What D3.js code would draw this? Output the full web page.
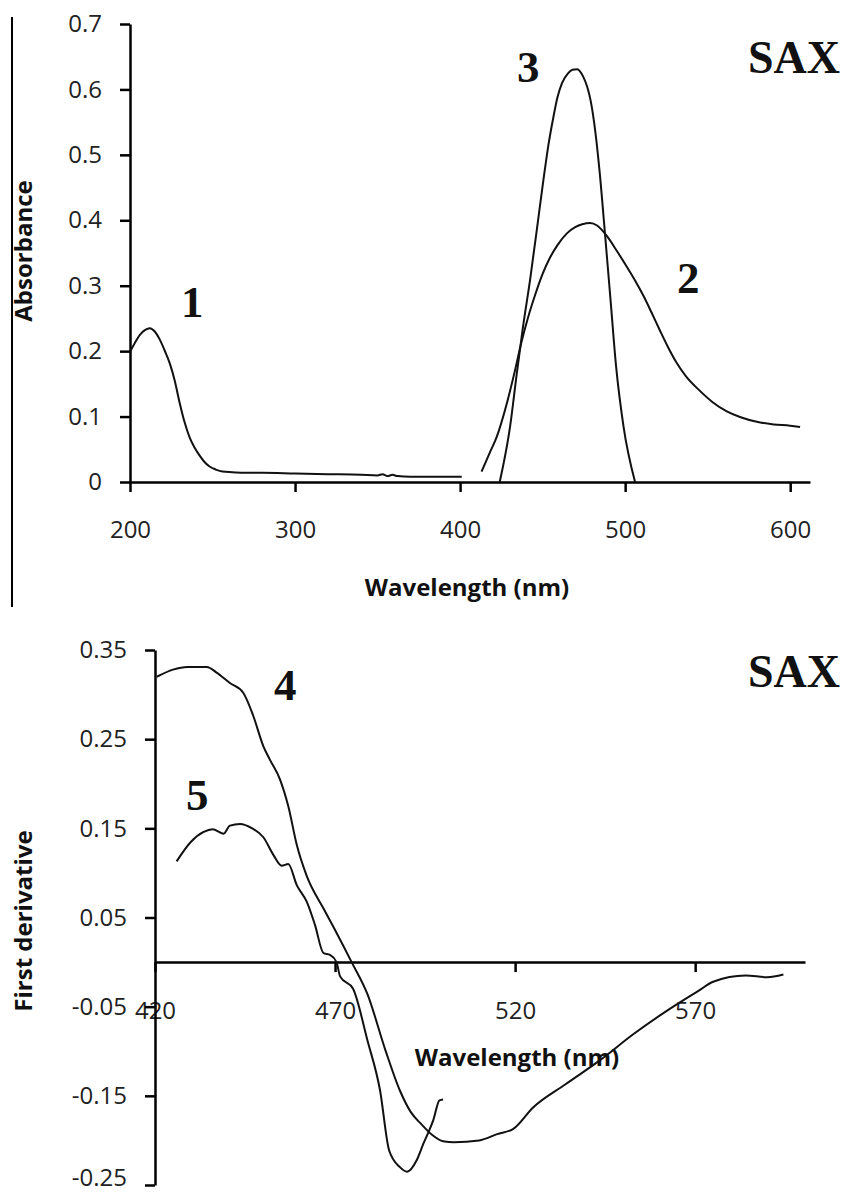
<!DOCTYPE html>
<html>
<head>
<meta charset="utf-8">
<title>SAX spectra</title>
<script src="https://cdn.jsdelivr.net/npm/d3@7/dist/d3.min.js"></script>
<style>
  body { margin: 0; background: #fff; }
  svg text { fill: #111; }
  .tick text { font-family: "Open Sans", sans-serif; font-size: 24px; fill: #222; }
  .ttl { font-family: "Open Sans", sans-serif; font-size: 24px; font-weight: bold; }
  .lbl { font-family: "Liberation Serif", serif; font-size: 45px; font-weight: bold; }
  .sax { font-family: "Liberation Serif", serif; font-size: 46px; font-weight: bold; }
</style>
</head>
<body>
<div id="chart"></div>
<script>
// ---- top panel: absorbance spectra ----
var wl1 = [200,203,206,209,212,215,218,221,224,227,230,233,236,239,242,245,248,252,256,262,270,280,300,320,340,350,353,356,359,362,370,385,401];
var abs1 = [0.199,0.213,0.225,0.232,0.235,0.230,0.218,0.201,0.182,0.156,0.122,0.092,0.069,0.053,0.041,0.031,0.024,0.019,0.016,0.015,0.014,0.014,0.013,0.012,0.011,0.010,0.012,0.009,0.011,0.009,0.008,0.008,0.008];

var wl2 = [413,418,422.2,428.3,433.3,437,441,446,450,454.5,459,464.7,470,474,478.8,483,488.9,495,501,506,511,516,521,526,531,537,545,553,561.6,570,579.8,590,600,606];
var abs2 = [0.016,0.045,0.069,0.120,0.171,0.212,0.250,0.290,0.318,0.343,0.362,0.380,0.390,0.394,0.396,0.392,0.376,0.353,0.329,0.308,0.285,0.259,0.232,0.206,0.183,0.161,0.140,0.122,0.108,0.099,0.092,0.088,0.086,0.084];

var wl3 = [424,430.3,434.3,438,442.4,447.5,450.5,453.5,456.4,459,461.8,465.5,468,471,474.5,477,479,482,484.5,488,491,494.5,499,506];
var abs3 = [0,0.085,0.165,0.235,0.309,0.405,0.462,0.515,0.556,0.588,0.610,0.625,0.630,0.631,0.620,0.604,0.584,0.534,0.475,0.373,0.283,0.177,0.085,0];

var xTicksTop = [200,300,400,500,600];
var yTicksTop = [0,0.1,0.2,0.3,0.4,0.5,0.6,0.7];

// ---- bottom panel: first derivative ----
var wl4 = [420.5,425,429,434.4,437,440.8,444.5,447.3,450.1,451.9,454.7,457,459.4,462.1,466.8,470,474.6,479,484,488,491,494,497,500,503,510,515,519.5,525,534,543.6,552.8,562,571,575,584,590,594.5];
var der4 = [0.320,0.328,0.331,0.331,0.325,0.313,0.302,0.276,0.242,0.227,0.205,0.175,0.131,0.097,0.060,0.036,0,-0.036,-0.099,-0.144,-0.168,-0.182,-0.194,-0.201,-0.202,-0.200,-0.193,-0.187,-0.163,-0.137,-0.110,-0.081,-0.055,-0.032,-0.022,-0.015,-0.017,-0.014];

var wl5 = [426,430,433.5,436,439,440.8,443.6,447,450.1,452.9,455.2,457,459.4,462.1,464.4,466.8,468.6,470.4,471.4,475,479,482.5,485,488,490,492.7,494.5,497.3,499,500];
var der5 = [0.113,0.135,0.146,0.149,0.144,0.153,0.155,0.150,0.140,0.120,0.108,0.110,0.086,0.068,0.042,0.010,0.008,0,-0.016,-0.030,-0.088,-0.144,-0.211,-0.230,-0.235,-0.222,-0.204,-0.177,-0.155,-0.154];

var xTicksBot = [420,470,520,570];
var yTicksBot = [-0.25,-0.15,-0.05,0.05,0.15,0.25,0.35];

var W = 843, H = 1198;
var svg = d3.select("#chart").append("svg").attr("width", W).attr("height", H);

// thin frame line on the left edge of the upper panel
svg.append("line").attr("x1", 12).attr("x2", 12).attr("y1", 17).attr("y2", 607)
    .attr("stroke", "#000").attr("stroke-width", 2);

function drawLine(g, x, y, wl, vals) {
    var pts = wl.map(function (w, i) { return [w, vals[i]]; });
    g.append("path")
        .datum(pts)
        .attr("fill", "none")
        .attr("stroke", "#111")
        .attr("stroke-width", 2)
        .attr("d", d3.line()
            .x(function (d) { return x(d[0]); })
            .y(function (d) { return y(d[1]); })
            .curve(d3.curveMonotoneX));
}

// top panel
var x1 = d3.scaleLinear().domain([200, 612]).range([130, 810]);
var y1 = d3.scaleLinear().domain([0, 0.7]).range([482, 24]);

var gTop = svg.append("g");
gTop.append("g").attr("transform", "translate(0,482)")
    .call(d3.axisBottom(x1).tickValues(xTicksTop).tickSize(10).tickSizeOuter(0).tickPadding(29)
        .tickFormat(function (d) { return d; }));
gTop.append("g").attr("transform", "translate(130,0)")
    .call(d3.axisLeft(y1).tickValues(yTicksTop).tickSize(10).tickSizeOuter(0).tickPadding(18)
        .tickFormat(function (d) { return d === 0 ? "0" : d.toFixed(1); }));

drawLine(gTop, x1, y1, wl1, abs1);
drawLine(gTop, x1, y1, wl2, abs2);
drawLine(gTop, x1, y1, wl3, abs3);

gTop.append("text").attr("class", "ttl").attr("x", 467).attr("y", 596)
    .attr("text-anchor", "middle").text("Wavelength (nm)");
gTop.append("text").attr("class", "ttl").attr("transform", "translate(32,251) rotate(-90)")
    .attr("text-anchor", "middle").text("Absorbance");
gTop.append("text").attr("class", "sax").attr("x", 748).attr("y", 73).text("SAX");
gTop.append("text").attr("class", "lbl").attr("x", 181).attr("y", 317).text("1");
gTop.append("text").attr("class", "lbl").attr("x", 677).attr("y", 293).text("2");
gTop.append("text").attr("class", "lbl").attr("x", 517).attr("y", 82).text("3");

// bottom panel
var x2 = d3.scaleLinear().domain([420, 600.5]).range([155, 805]);
var y2 = d3.scaleLinear().domain([-0.25, 0.35]).range([1185, 650]);

var gBot = svg.append("g");
gBot.append("g").attr("transform", "translate(0," + y2(0) + ")")
    .call(d3.axisBottom(x2).tickValues(xTicksBot).tickSize(10).tickSizeOuter(0).tickPadding(30)
        .tickFormat(function (d) { return d; }));
var yAxBot = gBot.append("g").attr("transform", "translate(155,0)")
    .call(d3.axisLeft(y2).tickValues(yTicksBot).tickSize(10).tickSizeOuter(0).tickPadding(18)
        .tickFormat(function (d) { return d.toFixed(2); }));
// lowest label sits on the page edge; lift it a little so it stays whole
yAxBot.selectAll(".tick text").filter(function (d) { return d === -0.25; }).attr("dy", "0.02em");

drawLine(gBot, x2, y2, wl4, der4);
drawLine(gBot, x2, y2, wl5, der5);

gBot.append("text").attr("class", "ttl").attr("x", 517).attr("y", 1066)
    .attr("text-anchor", "middle").text("Wavelength (nm)");
gBot.append("text").attr("class", "ttl").attr("transform", "translate(32,921) rotate(-90)")
    .attr("text-anchor", "middle").text("First derivative");
gBot.append("text").attr("class", "sax").attr("x", 748).attr("y", 687).text("SAX");
gBot.append("text").attr("class", "lbl").attr("x", 274).attr("y", 700).text("4");
gBot.append("text").attr("class", "lbl").attr("x", 186).attr("y", 810).text("5");

svg.selectAll(".domain, .tick line").attr("stroke", "#000").attr("stroke-width", 2.5);
</script>
</body>
</html>
